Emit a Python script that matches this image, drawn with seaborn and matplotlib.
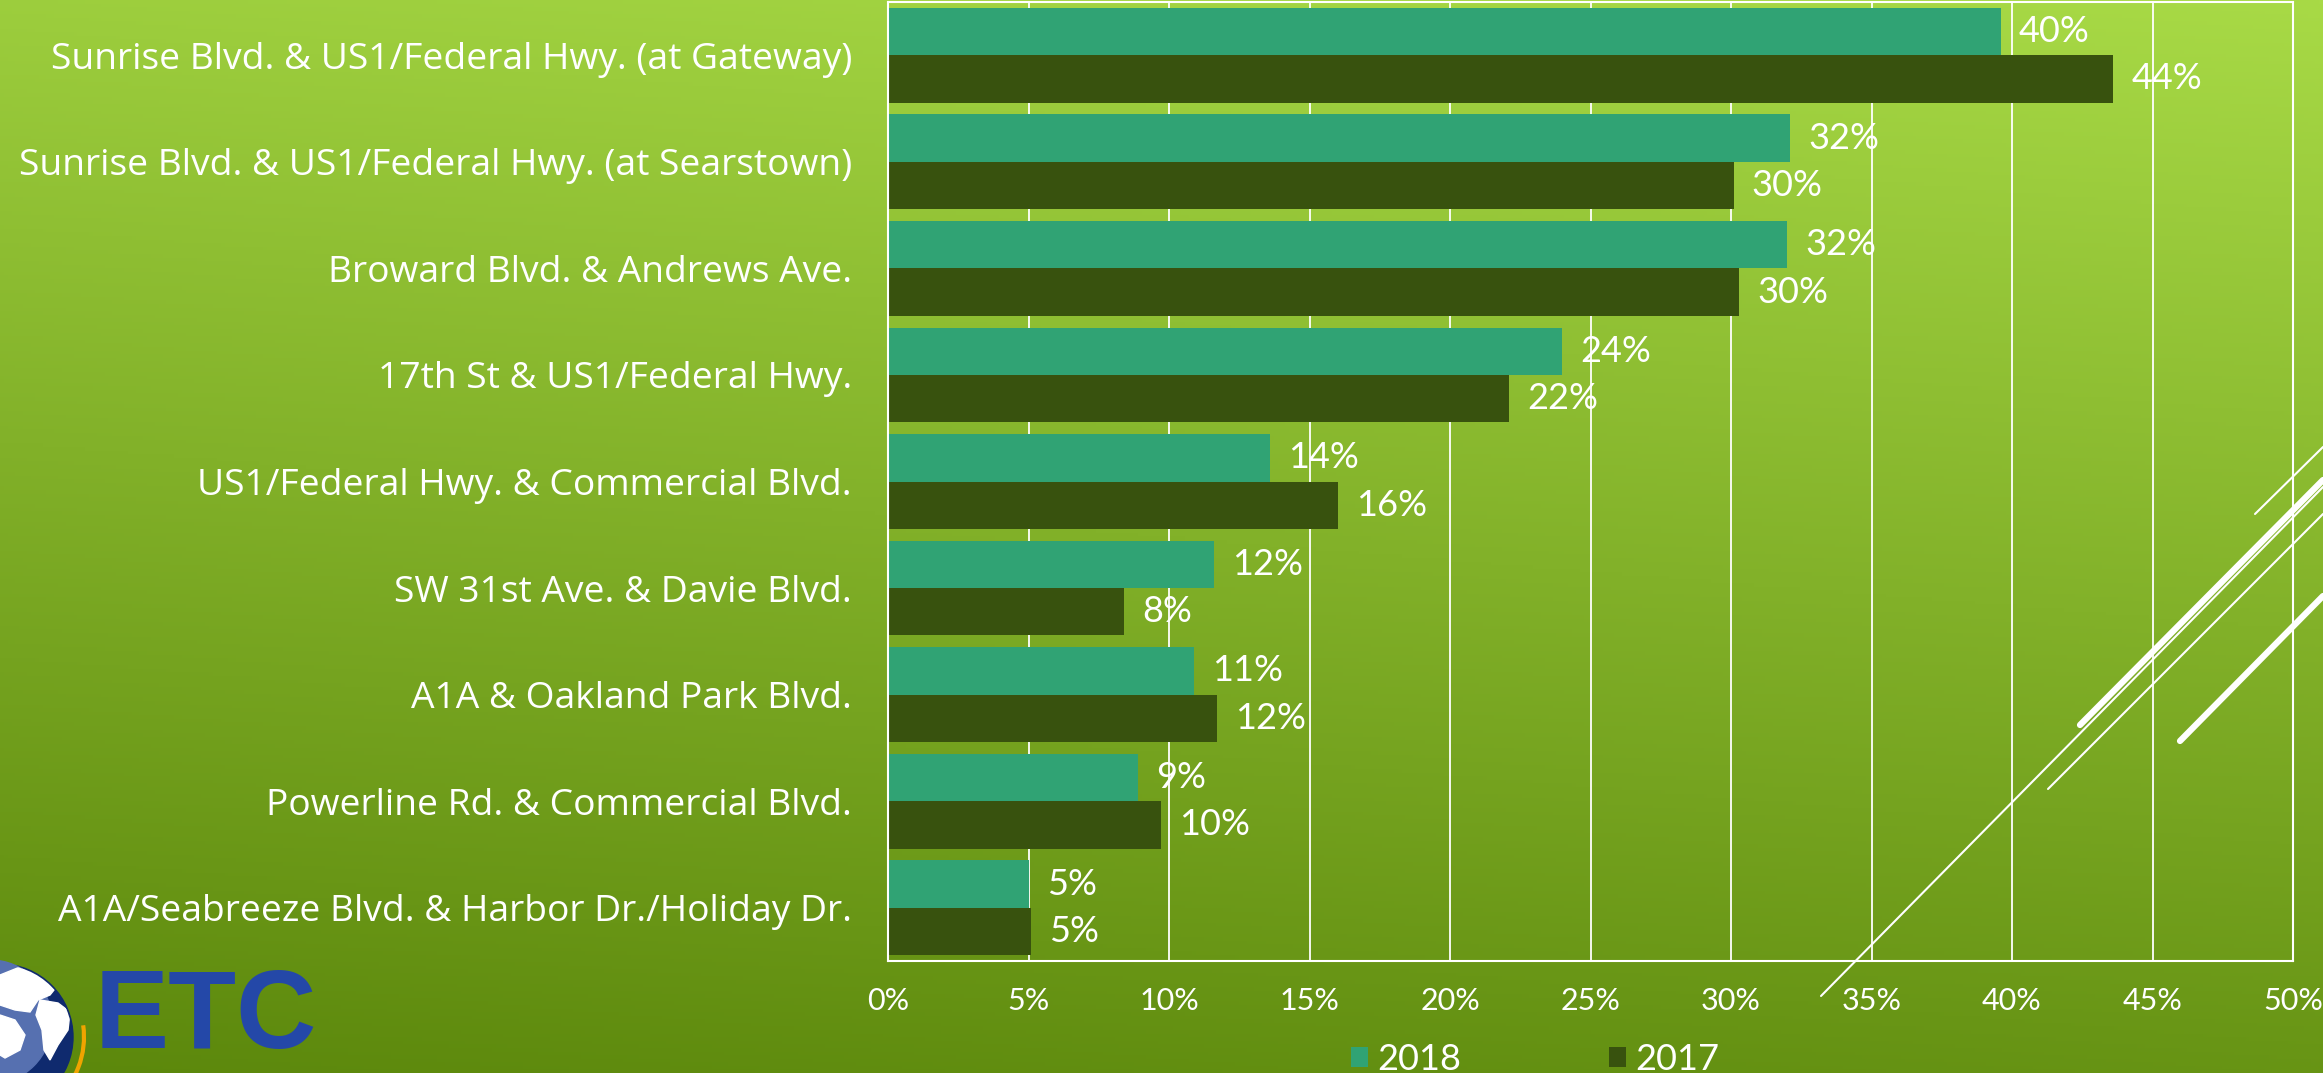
import numpy as np
import pandas as pd
import matplotlib
matplotlib.use("Agg")
import matplotlib.pyplot as plt
import seaborn as sns
from matplotlib.patches import Circle, Arc, Polygon
from matplotlib.lines import Line2D
from matplotlib.ticker import FuncFormatter

# ---------------- data ----------------
categories = [
    "Sunrise Blvd. & US1/Federal Hwy. (at Gateway)",
    "Sunrise Blvd. & US1/Federal Hwy. (at Searstown)",
    "Broward Blvd. & Andrews Ave.",
    "17th St & US1/Federal Hwy.",
    "US1/Federal Hwy. & Commercial Blvd.",
    "SW 31st Ave. & Davie Blvd.",
    "A1A & Oakland Park Blvd.",
    "Powerline Rd. & Commercial Blvd.",
    "A1A/Seabreeze Blvd. & Harbor Dr./Holiday Dr.",
]
values_2018 = [39.6, 32.1, 32.0, 24.0, 13.6, 11.6, 10.9, 8.9, 5.0]
values_2017 = [43.6, 30.1, 30.3, 22.1, 16.0, 8.4, 11.7, 9.7, 5.1]
series = ["2018", "2017"]
x_ticks = [0, 5, 10, 15, 20, 25, 30, 35, 40, 45, 50]

df = pd.DataFrame({
    "category": categories * 2,
    "year": ["2018"] * len(categories) + ["2017"] * len(categories),
    "value": values_2018 + values_2017,
})

# ---------------- style ----------------
plt.rcParams["font.family"] = ["Lato", "DejaVu Sans"]
W, H = 2323, 1073
fig = plt.figure(figsize=(W / 100, H / 100), dpi=100)

# background gradient
bg = fig.add_axes([0, 0, 1, 1], zorder=-10)
yy, xx = np.mgrid[0:1:300j, 0:1:600j]
t = np.clip(yy * 0.85 + (1 - xx) * 0.15, 0, 1)[..., None]
light = np.array([168, 218, 70]) / 255
dark = np.array([92, 136, 12]) / 255
img = light * (1 - t) + dark * t
bg.imshow(img, extent=[0, 1, 0, 1], aspect="auto", origin="upper")
bg.set_axis_off()

# main axes
ax = fig.add_axes([888 / W, 1 - 961 / H, (2293 - 888) / W, (961 - 2) / H], zorder=1)
ax.set_facecolor("none")

palette = {"2018": "#30A374", "2017": "#38520E"}
sns.barplot(data=df, y="category", x="value", hue="year", hue_order=series,
            order=categories, palette=palette, width=0.89, saturation=1,
            orient="h", errorbar=None, linewidth=0, ax=ax)

for c in ax.containers:
    ax.bar_label(c, labels=[f"{v:.0f}%" for v in c.datavalues], padding=13,
                 color="white", fontsize=26)

ax.set_xlim(0, 50)
ax.set_xticks(x_ticks)
ax.xaxis.set_major_formatter(FuncFormatter(lambda v, p: f"{v:.0f}%"))
ax.grid(axis="x", color="white", linewidth=1.3)
ax.grid(axis="y", visible=False)
ax.set_axisbelow(True)
for s in ax.spines.values():
    s.set_color("white")
    s.set_linewidth(1.5)
ax.tick_params(axis="y", length=0, pad=26, labelsize=26, colors="white")
ax.tick_params(axis="x", length=0, pad=19, labelsize=22, colors="white")
for lab in ax.get_yticklabels():
    lab.set_fontfamily(["Open Sans", "DejaVu Sans"])
    lab.set_fontsize(26.8)
ax.set_xlabel("")
ax.set_ylabel("")

handles, labels = ax.get_legend_handles_labels()
ax.legend(handles, labels, loc="center", bbox_to_anchor=(0.4605, -0.103),
          ncol=2, frameon=False, fontsize=26, labelcolor="white",
          handlelength=0.47, handleheight=0.47, handletextpad=0.25,
          columnspacing=4.1)

# overlay decorations (pixel coordinates)
ov = fig.add_axes([0, 0, 1, 1], zorder=5)
ov.set_xlim(0, W)
ov.set_ylim(H, 0)
ov.set_axis_off()
ov.set_facecolor("none")

deco = [
    ((1821, 996), (2323, 487), 1.5),
    ((2080, 725), (2323, 480), 4.5),
    ((2048, 789), (2323, 514), 1.5),
    ((2255, 514), (2323, 447), 1.5),
    ((2180, 741), (2323, 596), 4.5),
]
for (x0, y0), (x1, y1), lw in deco:
    ov.add_line(Line2D([x0, x1], [y0, y1], color="white", lw=lw,
                       solid_capstyle="round"))

# logo
ov.add_patch(Circle((0, 1037), 73, color="#0F2A6E"))
ov.add_patch(Circle((-10, 1022), 62, color="#5670B0"))
globe_clip = Circle((0, 1037), 72, transform=ov.transData)
north = Polygon([(0, 975), (20, 967), (45, 972), (58, 985), (50, 995),
                 (38, 1000), (30, 1012), (15, 1010), (0, 1005)],
                closed=True, color="white")
south = Polygon([(40, 1000), (58, 1003), (70, 1012), (68, 1030), (58, 1045),
                 (50, 1060), (44, 1050), (42, 1030), (36, 1015)],
                closed=True, color="white")
west = Polygon([(0, 1015), (15, 1020), (25, 1035), (20, 1050), (5, 1058), (0, 1055)],
               closed=True, color="white")
for p in (north, south, west):
    ov.add_patch(p)
    p.set_clip_path(globe_clip)
ov.add_patch(Arc((0, 1037), 168, 168, theta1=-8, theta2=50, color="#F0A400", lw=3))
ov.text(95, 1048, "ETC", fontsize=80, fontweight="bold", color="#2448A8",
        family="Liberation Sans", ha="left", va="baseline")

fig.savefig("out.png", dpi=100)
